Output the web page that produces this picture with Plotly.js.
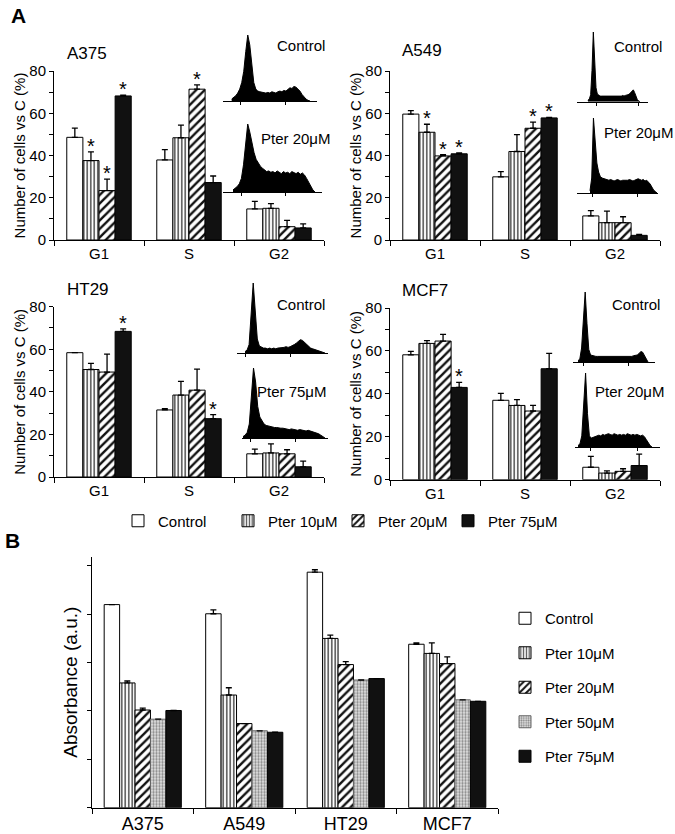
<!DOCTYPE html>
<html><head><meta charset="utf-8">
<script src="https://cdn.plot.ly/plotly-3.0.1.min.js"></script>
<style>html,body{margin:0;padding:0;background:#fff}#chart{width:675px;height:834px}</style>
</head><body><div id="chart"></div>
<script>
// ---------------- DATA ----------------
const phases = ['G1', 'S', 'G2'];
const seriesA = ['Control', 'Pter 10\u03bcM', 'Pter 20\u03bcM', 'Pter 75\u03bcM'];
const cellLines = ['A375', 'A549', 'HT29', 'MCF7'];
const seriesB = ['Control', 'Pter 10\u03bcM', 'Pter 20\u03bcM', 'Pter 50\u03bcM', 'Pter 75\u03bcM'];

// Panel A: % cells per phase [G1, S, G2], one row per series (Control, 10, 20, 75)
const A375_mean = [[48.6, 37.9, 14.7], [37.6, 48.4, 15.0], [23.4, 71.4, 6.3], [68.2, 27.2, 5.7]];
const A375_err  = [[4.4, 4.9, 3.6], [4.1, 6.0, 2.2], [5.4, 2.0, 3.0], [0.4, 3.1, 1.9]];
const A375_sig  = [[0, 0, 0], [1, 0, 0], [1, 1, 0], [1, 0, 0]];

const A549_mean = [[59.6, 29.9, 11.4], [51.0, 41.9, 8.2], [39.8, 52.9, 8.2], [40.8, 57.8, 2.2]];
const A549_err  = [[1.6, 2.5, 2.5], [3.8, 8.0, 5.5], [0.6, 2.9, 2.8], [0.4, 0.2, 0.5]];
const A549_sig  = [[0, 0, 0], [1, 0, 0], [1, 1, 0], [1, 1, 0]];

const HT29_mean = [[58.4, 31.5, 10.9], [50.5, 38.5, 11.3], [49.3, 40.8, 10.9], [68.4, 27.4, 4.8]];
const HT29_err  = [[0.0, 0.6, 2.2], [2.9, 6.4, 4.3], [8.4, 9.9, 1.9], [1.2, 1.9, 2.7]];
const HT29_sig  = [[0, 0, 0], [0, 0, 0], [0, 0, 0], [1, 1, 0]];

const MCF7_mean = [[58.2, 37.0, 5.8], [63.5, 34.6, 3.1], [64.6, 32.0, 3.9], [43.0, 51.7, 6.6]];
const MCF7_err  = [[1.6, 3.2, 5.1], [1.3, 2.7, 1.0], [3.1, 2.6, 1.2], [2.3, 7.2, 5.3]];
const MCF7_sig  = [[0, 0, 0], [0, 0, 0], [0, 0, 0], [1, 0, 0]];

const yTicksA = [0, 10, 20, 30, 40, 50, 60, 70, 80];
const yTextA  = ['0', '', '20', '', '40', '', '60', '', '80'];

// Flow-cytometry DNA histograms (relative counts, peak = 100)
const hist_A375_control = [3,5,8,12,18,28,45,75,100,85,50,28,18,15,14,13,12,12,13,12,14,13,12,14,15,14,16,15,18,20,19,22,21,18,15,10,6,3,1,0];
const hist_A375_pter    = [3,5,8,12,20,40,75,100,88,70,58,48,42,38,35,32,30,31,29,30,28,31,29,27,30,28,29,27,30,28,27,29,26,28,25,20,14,8,3,0];
const hist_A549_control = [2,4,10,45,100,60,20,11,9,8,8,8,7,8,8,7,8,8,7,8,8,7,8,8,8,8,9,8,9,9,10,11,13,16,17,13,7,3,1,0];
const hist_A549_pter    = [3,20,100,70,40,28,22,20,19,18,18,17,18,17,16,17,18,17,16,17,17,16,17,18,17,16,17,18,19,18,17,18,16,17,15,12,8,4,2,0];
const hist_HT29_control = [2,4,12,55,100,60,20,10,8,7,7,6,7,6,7,6,7,7,8,8,9,8,9,10,12,14,17,19,18,15,12,9,7,6,5,4,3,2,1,0];
const hist_HT29_pter    = [2,4,8,20,60,100,80,45,30,24,20,18,17,16,16,15,15,14,14,14,13,13,12,13,12,12,11,12,11,11,10,11,10,10,9,8,6,4,2,0];
const hist_MCF7_control = [2,4,20,70,100,55,18,10,9,8,8,8,8,7,8,7,8,7,7,8,7,8,7,8,7,8,8,7,8,8,8,9,9,10,12,15,14,9,4,0];
const hist_MCF7_pter    = [2,4,15,65,100,45,15,12,13,14,15,16,15,17,16,17,18,17,16,18,17,16,17,16,17,16,18,17,16,17,16,17,16,15,16,14,10,6,2,0];

// Panel B: absorbance (a.u.) per cell line [A375, A549, HT29, MCF7]
const absControl = [4.20, 4.01, 4.87, 3.38];
const absP10     = [2.58, 2.33, 3.50, 3.19];
const absP20     = [2.02, 1.74, 2.96, 2.98];
const absP50     = [1.83, 1.59, 2.64, 2.23];
const absP75     = [2.01, 1.56, 2.67, 2.20];
const errControl = [0.00, 0.08, 0.05, 0.03];
const errP10     = [0.04, 0.15, 0.07, 0.22];
const errP20     = [0.04, 0.00, 0.06, 0.14];
const errP50     = [0.00, 0.00, 0.00, 0.00];
const errP75     = [0.00, 0.00, 0.00, 0.00];

// ---------------- LAYOUT / STYLE ----------------
const W = 675, H = 834;
const FONT = 'Arial, "Liberation Sans", sans-serif';
const dxp = (a, b) => [a / W, b / W];
const dyp = (top, bot) => [1 - bot / H, 1 - top / H];

const styles = [
  {color: '#ffffff', pattern: {shape: ''}},
  {color: '#ffffff', pattern: {shape: '|', fgcolor: '#555', bgcolor: '#fff', size: 3.5, solidity: 0.45}},
  {color: '#ffffff', pattern: {shape: '/', fgcolor: '#111', bgcolor: '#fff', size: 6, solidity: 0.4}},
  {color: '#dcdcdc', pattern: {shape: '.', fgcolor: '#888', bgcolor: '#e4e4e4', size: 3, solidity: 0.45}},
  {color: '#111111', pattern: {shape: ''}}
];
const styleIdxA = [0, 1, 2, 4];

const panelsA = [
  {name: 'A375', mean: A375_mean, err: A375_err, sig: A375_sig, x0: 54, x1: 324, top: 71, bot: 240,
   tx: 65, ty: 53,
   insets: [
     {h: hist_A375_control, ax: [222.7, 316.7], d: [231.7, 310], top: 35, base: 101, ticks: [240.7, 285.7], label: 'Control', lx: 275, ly: 46},
     {h: hist_A375_pter, ax: [222.7, 321.7], d: [233, 315], top: 124, base: 192, ticks: [241.7, 285], label: 'Pter 20\u03bcM', lx: 259, ly: 139}]},
  {name: 'A549', mean: A549_mean, err: A549_err, sig: A549_sig, x0: 390, x1: 660, top: 71, bot: 240,
   tx: 400, ty: 51,
   insets: [
     {h: hist_A549_control, ax: [577, 648], d: [588, 640], top: 32, base: 101.7, ticks: [596, 638], label: 'Control', lx: 612, ly: 47},
     {h: hist_A549_pter, ax: [577, 658], d: [590, 657], top: 118, base: 193, ticks: [592, 637], label: 'Pter 20\u03bcM', lx: 602, ly: 132}]},
  {name: 'HT29', mean: HT29_mean, err: HT29_err, sig: HT29_sig, x0: 54, x1: 324, top: 306.7, bot: 477,
   tx: 65, ty: 289,
   insets: [
     {h: hist_HT29_control, ax: [237, 328], d: [245, 325], top: 283, base: 353, ticks: [245, 290], label: 'Control', lx: 275, ly: 305},
     {h: hist_HT29_pter, ax: [242, 328], d: [243, 325], top: 368, base: 438, ticks: [250, 295], label: 'Pter 75\u03bcM', lx: 255, ly: 392}]},
  {name: 'MCF7', mean: MCF7_mean, err: MCF7_err, sig: MCF7_sig, x0: 390, x1: 660, top: 308, bot: 479.7,
   tx: 400, ty: 290,
   insets: [
     {h: hist_MCF7_control, ax: [573, 655], d: [578, 648], top: 292, base: 362, ticks: [583, 628], label: 'Control', lx: 610, ly: 305},
     {h: hist_MCF7_pter, ax: [575, 660], d: [578, 652], top: 373, base: 447, ticks: [590, 637], label: 'Pter 20\u03bcM', lx: 593, ly: 392}]}
];

const data = [];
const annotations = [];
const layout = {
  width: W, height: H,
  margin: {l: 0, r: 0, t: 0, b: 0},
  paper_bgcolor: '#fff', plot_bgcolor: 'rgba(0,0,0,0)',
  font: {family: FONT, color: '#000', size: 15},
  barmode: 'overlay',
  showlegend: true,
  legend: {orientation: 'h', x: 118 / W, xanchor: 'left', y: 1 - 521 / H, yanchor: 'middle',
           entrywidth: 65, entrywidthmode: 'pixels',
           font: {size: 15, family: FONT}, bgcolor: 'rgba(0,0,0,0)'},
  legend2: {orientation: 'v', x: 505 / W, xanchor: 'left', y: 1 - 602 / H, yanchor: 'top',
            font: {size: 15, family: FONT}, bgcolor: 'rgba(0,0,0,0)', traceorder: 'grouped', tracegroupgap: 12},
  annotations: annotations
};

let axN = 0;
function newAxes() { axN += 1; return axN === 1 ? ['x', 'y', 'xaxis', 'yaxis'] : ['x' + axN, 'y' + axN, 'xaxis' + axN, 'yaxis' + axN]; }

const wA = 0.179;
panelsA.forEach((p, pi) => {
  const [xr, yr, xk, yk] = newAxes();
  layout[xk] = {domain: dxp(p.x0, p.x1), anchor: yr, type: 'category', range: [-0.5, 2.5],
    showline: true, linecolor: '#000', linewidth: 1, ticks: 'outside', tickson: 'boundaries',
    ticklen: 5, tickcolor: '#000', tickfont: {size: 15}, showgrid: false, zeroline: false};
  layout[yk] = {domain: dyp(p.top, p.bot), anchor: xr, range: [0, 80], tickvals: yTicksA, ticktext: yTextA,
    showline: true, linecolor: '#000', linewidth: 1, ticks: 'outside', ticklen: 4, tickcolor: '#000',
    tickfont: {size: 15}, showgrid: false, zeroline: false,
    title: {text: 'Number of cells vs C (%)', font: {size: 15}, standoff: 0}};
  p.mean.forEach((vals, s) => {
    const st = styles[styleIdxA[s]];
    const off = -2 * wA + s * wA;
    data.push({type: 'bar', x: phases, y: vals, xaxis: xr, yaxis: yr, width: wA, offset: off,
      name: seriesA[s], legend: 'legend', legendgroup: 'a' + s, showlegend: pi === 0,
      marker: {color: st.color, pattern: st.pattern, line: {color: '#000', width: 1}},
      error_y: {type: 'data', symmetric: false, array: p.err[s], arrayminus: vals.map(() => 0),
        color: '#000', thickness: 1.3, width: 3},
      hoverinfo: 'skip'});
    p.sig[s].forEach((flag, k) => {
      if (flag) annotations.push({xref: xr, yref: yr, x: k + off + wA / 2, y: vals[k] + p.err[s][k],
        text: '*', showarrow: false, yanchor: 'bottom', yshift: -7, font: {size: 20, family: FONT}});
    });
  });
  annotations.push({xref: 'paper', yref: 'paper', x: p.tx / W, y: 1 - p.ty / H, xanchor: 'left', yanchor: 'middle',
    text: p.name, showarrow: false, font: {size: 17, family: FONT}});
  p.insets.forEach(ins => {
    const [hx, hy, hxk, hyk] = newAxes();
    const n = ins.h.length;
    const sc = (n - 1) / (ins.d[1] - ins.d[0]);
    layout[hxk] = {domain: dxp(ins.ax[0], ins.ax[1]), anchor: hy,
      range: [-(ins.d[0] - ins.ax[0]) * sc, (n - 1) + (ins.ax[1] - ins.d[1]) * sc],
      showline: true, linecolor: '#000', linewidth: 1, ticks: 'outside', ticklen: 3, tickcolor: '#000',
      tickvals: ins.ticks.map(t => (t - ins.d[0]) * sc), showticklabels: false,
      showgrid: false, zeroline: false};
    layout[hyk] = {domain: dyp(ins.top, ins.base), anchor: hx, range: [0, 100], visible: false};
    data.push({type: 'scatter', mode: 'lines', x: ins.h.map((_, i) => i), y: ins.h, xaxis: hx, yaxis: hy,
      fill: 'tozeroy', fillcolor: '#000', line: {color: '#000', width: 1}, showlegend: false, hoverinfo: 'skip'});
    annotations.push({xref: 'paper', yref: 'paper', x: ins.lx / W, y: 1 - ins.ly / H, xanchor: 'left', yanchor: 'middle',
      text: ins.label, showarrow: false, font: {size: 15, family: FONT}});
  });
});

// Panel B
const absVals = [absControl, absP10, absP20, absP50, absP75];
const absErrs = [errControl, errP10, errP20, errP50, errP75];
const [bx, by, bxk, byk] = newAxes();
layout[bxk] = {domain: dxp(92, 498), anchor: by, type: 'category', range: [-0.5, 3.5],
  showline: true, linecolor: '#000', linewidth: 1, ticks: 'outside', tickson: 'boundaries',
  ticklen: 5, tickcolor: '#000', tickfont: {size: 18}, showgrid: false, zeroline: false};
layout[byk] = {domain: dyp(556.7, 807.7), anchor: bx, range: [0, 5.19], tickvals: [0, 1, 2, 3, 4, 5],
  showticklabels: false, showline: true, linecolor: '#000', linewidth: 1, ticks: 'outside', ticklen: 4,
  tickcolor: '#000', showgrid: false, zeroline: false,
  title: {text: 'Absorbance (a.u.)', font: {size: 19}, standoff: 4}};
const wB = 0.152;
absVals.forEach((vals, s) => {
  const st = styles[s];
  data.push({type: 'bar', x: cellLines, y: vals, xaxis: bx, yaxis: by, width: wB, offset: -2.5 * wB + s * wB,
    name: seriesB[s], legend: 'legend2', legendgroup: 'b' + s, showlegend: true,
    marker: {color: st.color, pattern: st.pattern, line: {color: s === 3 ? '#666' : '#000', width: 1}},
    error_y: {type: 'data', symmetric: false, array: absErrs[s], arrayminus: vals.map(() => 0),
      color: '#000', thickness: 1.3, width: 3},
    hoverinfo: 'skip'});
});

annotations.push({xref: 'paper', yref: 'paper', x: 9 / W, y: 1 - 16 / H, xanchor: 'left', yanchor: 'middle',
  text: '<b>A</b>', showarrow: false, font: {size: 21, family: FONT}});
annotations.push({xref: 'paper', yref: 'paper', x: 3 / W, y: 1 - 540 / H, xanchor: 'left', yanchor: 'middle',
  text: '<b>B</b>', showarrow: false, font: {size: 21, family: FONT}});

Plotly.newPlot('chart', data, layout, {staticPlot: true, displayModeBar: false});
</script>
</body></html>
